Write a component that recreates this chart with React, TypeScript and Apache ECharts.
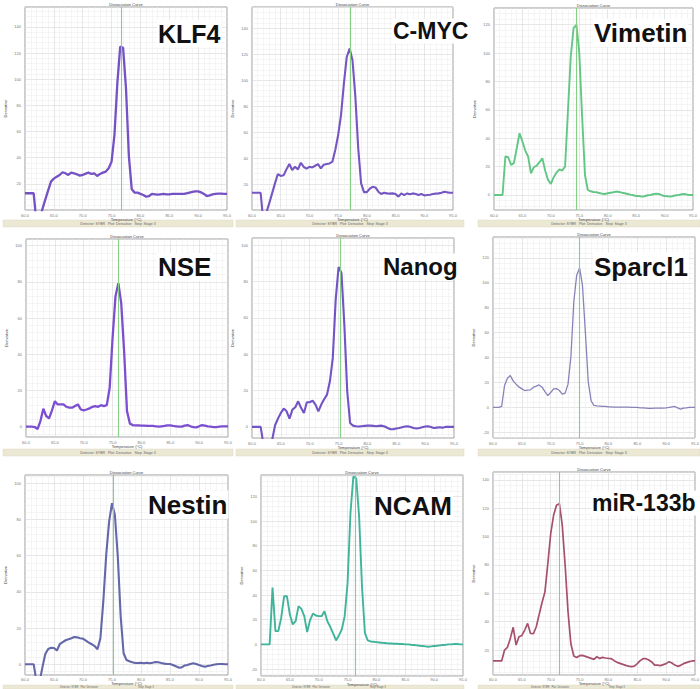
import React, { useEffect, useRef } from "react";
import * as echarts from "echarts";

// Shared temperature grid (°C)
const temps = [
  60, 60.5, 61, 61.5, 62, 62.5, 63, 63.5, 64, 64.5,
  65, 65.5, 66, 66.5, 67, 67.5, 68, 68.5, 69, 69.5,
  70, 70.5, 71, 71.5, 72, 72.5, 73, 73.5, 74, 74.5,
  75, 75.5, 76, 76.5, 77, 77.5, 78, 78.5, 79, 79.5,
  80, 80.5, 81, 81.5, 82, 82.5, 83, 83.5, 84, 84.5,
  85, 85.5, 86, 86.5, 87, 87.5, 88, 88.5, 89, 89.5,
  90, 90.5, 91, 91.5, 92, 92.5, 93, 93.5, 94, 94.5,
  95,
];

const klf4 = [
  12.8, 12.8, 12.8, 12.8, -10, -10, 0.5, 7.7, 14.8, 21.7,
  24, 25.5, 26.8, 28.9, 28.1, 26.8, 28.6, 28.1, 27.3, 26.3,
  26.8, 27.8, 28.6, 27.6, 28.1, 26, 27.6, 28.6, 29.4, 31.9,
  37, 57.5, 97, 125, 124, 93, 41, 15.8, 13.3, 13.3,
  12.3, 11.5, 10.2, 10.7, 12.3, 12, 11.7, 12, 12.3, 12,
  12, 12.3, 12.3, 12.3, 12.3, 12.3, 12.8, 13.3, 13.8, 14.3,
  14.3, 13.5, 12.3, 10.7, 11.2, 12, 12.3, 12.5, 12.5, 12.3,
  12.3,
];

const cmyc = [
  13.3, 13.3, 13.3, 13.3, -10, -2, 5.1, 12.8, 20.5, 27.7,
  26.2, 26.7, 31.3, 35.4, 30.8, 33.3, 31.3, 36.4, 33.3, 31.8,
  33.3, 32.8, 34.1, 35.4, 32, 34.9, 35.4, 35.9, 37.2, 46.2,
  57.7, 73.1, 97.4, 117.9, 124.4, 115.4, 87.2, 47.4, 20.5, 13.8,
  13.8, 16.4, 17.9, 17.4, 14.1, 12.3, 13.3, 12.8, 12.6, 12.8,
  12.3, 10.3, 12.8, 11.5, 12.8, 12.1, 12.8, 12.3, 11.5, 12.3,
  11.3, 11.5, 11.8, 12.3, 12.6, 12.8, 13.3, 14.1, 13.6, 13.3,
  13.3,
];

const vimetin = [
  0, 0, 0, 0, 27.1, 26.6, 21.2, 22.4, 32.9, 43.5,
  37.6, 31.3, 27.1, 15.3, 19.5, 20.7, 23.1, 25.9, 17.2, 10.6,
  7.8, 12.5, 15.8, 18.1, 17.2, 20, 58.8, 97.6, 117.6, 120,
  100, 55.3, 14.1, 3.5, 2.6, 2.1, 1.9, 1.4, 0.9, 0.7,
  1.2, 1.6, 1.9, 2.4, 2.1, 1.6, 1.2, 0.7, 0.2, -0.2,
  -0.7, -0.7, -1.2, -0.9, -0.2, 0, 0.5, 0.9, 0.7, -0.2,
  -0.7, -0.9, -1.2, -0.7, -0.2, 0, 0.5, 0.7, 0.2, 0,
  0,
];

const nse = [
  0, 0, 0, -0.2, -1.3, 3.1, 9.9, 5.9, 4.6, 9,
  14.1, 12.3, 12.3, 12.3, 11, 10.5, 10.5, 11.4, 12.3, 9.5,
  9, 9.5, 10.1, 11, 11.4, 11, 11.9, 11.4, 11.9, 21.5,
  49, 71.9, 79.3, 68.3, 41.7, 8.6, 1.7, 0.9, 0.7, 0.7,
  0.6, 0.6, 0.4, 0.4, 0.4, 0.2, 0, 0.2, 0.4, 0.7,
  0.7, 0.4, 0.2, 0, 0, 0.6, 0.9, 0.2, -0.2, -0.4,
  0.2, 0.9, 0.6, 0.2, 0, -0.2, -0.2, 0, 0.2, 0.2,
  0.2,
];

const nanog = [
  0, 0, 0, 0, -10, -10, -10, -7, 0.9, 4.6,
  7.7, 10.1, 8.6, 4.6, 9.5, 10.8, 14.1, 10.5, 7.7, 13.6,
  13.6, 14.5, 12.3, 8.6, 12.3, 15.2, 17.8, 25.1, 38, 70.1,
  88, 84.8, 56.3, 19.6, 2.2, 0.7, 0.4, 0.2, 0.4, 0.6,
  0.7, 0.7, 0.6, 0.4, 0.6, 0.7, 0.2, -0.6, -1.3, -1.3,
  -0.9, -0.6, -0.2, 0.2, 0.4, 0, -0.6, -0.9, -0.6, -0.2,
  0.2, 0.4, 0, -0.6, -0.4, -0.2, -0.4, 0, 0, 0,
  0,
];

const sparcl1 = [
  0, 0, 0, 0.8, 17.6, 23.5, 25.6, 21.3, 18.7, 16.5,
  14.9, 13.6, 13.9, 14.1, 16.3, 17.1, 18.1, 16.3, 12.8, 9.6,
  12, 14.9, 15.2, 13.6, 10.7, 11.5, 18.7, 40.8, 84.8, 106.1,
  112, 98.1, 60.8, 20.8, 5.3, 1.6, 1.3, 1.1, 0.8, 0.8,
  0.5, 0.5, 0.3, 0.3, 0.3, 0.3, 0.3, 0.3, 0, 0,
  0, -0.3, -0.3, -0.5, -0.8, -0.8, -0.5, -0.5, -0.5, -0.5,
  -0.3, 0, 0.5, 0.8, -0.3, -1.3, -0.5, -0.3, 0, 0,
  0,
];

const nestin = [
  0, 0, 0, 0, -10, -10, -1.7, 5.7, 8.5, 9.2,
  9, 7.6, 11.2, 12.3, 13.3, 13.8, 14.4, 15.1, 14.9, 14.4,
  14.2, 13.1, 12, 11.1, 10.1, 8.3, 14.4, 34.6, 60.4, 78.8,
  89, 82.5, 59.5, 26.3, 6.1, 2.4, 1.7, 1.1, 0.7, 0.7,
  0.9, 0.6, 0.9, 0.6, 0.9, 1.3, 1.1, 0.7, 0.4, 0.2,
  0.2, -0.4, -1.1, -1.8, -1.7, -0.7, -0.4, 0.2, 0.6, 0.2,
  -0.4, -0.9, -1.3, -0.9, -0.6, -0.2, 0, 0.2, 0.2, 0,
  0,
];

const ncam = [
  0, 0, 0, 0, 46, 10.8, 10.8, 21.5, 39, 39,
  24.2, 16.2, 18.8, 31, 28.8, 22.9, 10, 19.7, 25, 23.4,
  22.9, 22.9, 26.9, 18.8, 14.3, 8.9, 3.2, 7.3, 12.1, 22.9,
  49.8, 106.3, 136, 134.6, 103.6, 47.1, 9.4, 3.2, 2.4, 2.2,
  1.9, 1.6, 1.3, 1.1, 0.8, 0.8, 0.5, 0.5, 0.3, 0.3,
  0, 0, -0.3, -0.5, -0.8, -1.1, -1.3, -1.6, -1.9, -1.6,
  -1.3, -1.1, -0.8, -0.5, -0.3, 0, 0, 0.3, 0.3, 0,
  0,
];

const mir133b = [
  12.3, 12.3, 12.3, 12.3, 20, 21.9, 28.2, 36, 23.5, 29.4,
  30.3, 34.1, 38.8, 31.7, 31.5, 36.4, 45.1, 53.5, 61, 81,
  102.1, 115, 122, 123.2, 108, 79.8, 47, 24.2, 15.8, 14.8,
  16, 16.2, 15.5, 14.8, 14.1, 13.4, 15.3, 14.1, 14.8, 14.4,
  14.1, 13.9, 12.5, 11.3, 10.6, 9.9, 9.2, 8.7, 8.3, 8.7,
  10.4, 12.5, 13.9, 13.9, 13, 11.6, 9.4, 9.4, 9, 9.7,
  10.4, 11.8, 10.9, 9.4, 8.5, 9.2, 10.4, 11.1, 11.8, 12.3,
  12.3,
];

const geneNames = ["KLF4", "C-MYC", "Vimetin", "NSE", "Nanog", "Sparcl1", "Nestin", "NCAM", "miR-133b"];
const seriesValues = [klf4, cmyc, vimetin, nse, nanog, sparcl1, nestin, ncam, mir133b];
const meltTemps = [76.6, 77.1, 74.4, 75.9, 75.3, 75.0, 75.3, 76.3, 71.5];
const yMins = [0, 0, -10.6, -5.7, -6.1, -24.5, -5.9, -25.6, 2.4];
const yMaxs = [155.3, 156.4, 131.8, 103.7, 104.0, 136.8, 104.6, 137.3, 145.5];
const xMin = 60;
const xMax = 95;
const xStep = 5;

// Layout & styles (pixels)
const layout = [
  { box: [25, 7, 227, 210], color: "#7451c4", width: 2.3, split: 8, label: [157, 33.5, 25], nameGap: 7, tickGap: 3 },
  { box: [252, 7, 453, 210], color: "#7656c2", width: 2.1, split: 8, label: [392, 31, 23], nameGap: 7, tickGap: 3 },
  { box: [494, 8, 693, 210], color: "#62c786", width: 1.9, split: 7, label: [593, 33, 26], nameGap: 7, tickGap: 3 },
  { box: [26, 239, 228, 437], color: "#7c4fd0", width: 2.3, split: 5, label: [157, 267, 26], nameGap: 7, tickGap: 3 },
  { box: [252, 238, 454, 438], color: "#7254c6", width: 2.1, split: 5, label: [382, 266.5, 24], nameGap: 7, tickGap: 3 },
  { box: [493, 237, 695, 438], color: "#8783b8", width: 1.3, split: 8, label: [593, 266.5, 26], nameGap: 7, tickGap: 3 },
  { box: [25, 475, 228, 675], color: "#6467aa", width: 2.1, split: 5, label: [147, 504.5, 26], nameGap: 6.5, tickGap: 2 },
  { box: [261, 475, 463, 676], color: "#3fb49a", width: 1.9, split: 8, label: [373, 506, 26], nameGap: 5.5, tickGap: 1.5 },
  { box: [493, 472, 695, 675], color: "#a6506e", width: 1.7, split: 7, label: [591, 503, 23], nameGap: 6.5, tickGap: 2 },
];

const strips = [
  [3, 220, 230, 7], [236, 220, 228, 7], [478, 220, 222, 7],
  [3, 449, 230, 7], [236, 449, 228, 7], [478, 449, 222, 7],
  [3, 685, 230, 4], [236, 685, 228, 4], [478, 685, 222, 4],
];

const FONT = '"Liberation Sans", Arial, sans-serif';

export default function App() {
  const ref = useRef<HTMLDivElement>(null);

  useEffect(() => {
    if (!ref.current) return;
    const chart = echarts.init(ref.current, null, { renderer: "svg" });

    const grid = layout.map((p) => ({
      left: p.box[0],
      top: p.box[1],
      width: p.box[2] - p.box[0],
      height: p.box[3] - p.box[1],
      show: true,
      backgroundColor: "#ffffff",
      borderColor: "#9c9c9c",
      borderWidth: 1,
      containLabel: false,
      outerBoundsMode: "none",
    }));

    const xAxis = layout.map((p, i) => ({
      type: "value",
      gridIndex: i,
      min: xMin,
      max: xMax,
      interval: xStep,
      name: "Temperature (°C)",
      nameLocation: "middle",
      nameGap: p.nameGap,
      nameTextStyle: { fontSize: 4, color: "#444", fontFamily: FONT, lineHeight: 4 },
      axisLine: { show: false },
      axisTick: { show: false },
      axisLabel: {
        fontSize: 4,
        lineHeight: 4,
        color: "#777",
        margin: p.tickGap,
        fontFamily: FONT,
        formatter: (v: number) => v.toFixed(1),
      },
      splitLine: { show: true, lineStyle: { color: "#d6d6d6", width: 0.6 } },
      minorTick: { show: false, splitNumber: 5 },
      minorSplitLine: { show: true, lineStyle: { color: "#ebebeb", width: 0.5 } },
    }));

    const yAxis = layout.map((p, i) => ({
      type: "value",
      gridIndex: i,
      min: yMins[i],
      max: yMaxs[i],
      splitNumber: p.split,
      name: "Derivative",
      nameLocation: "middle",
      nameGap: 18,
      nameTextStyle: { fontSize: 4, color: "#444", fontFamily: FONT },
      axisLine: { show: false },
      axisTick: { show: false },
      axisLabel: {
        fontSize: 4,
        color: "#777",
        margin: 4,
        fontFamily: FONT,
        showMinLabel: false,
        showMaxLabel: false,
      },
      splitLine: { show: true, lineStyle: { color: "#d6d6d6", width: 0.6 } },
      minorTick: { show: false, splitNumber: 5 },
      minorSplitLine: { show: true, lineStyle: { color: "#ebebeb", width: 0.5 } },
    }));

    const series = layout.map((p, i) => ({
      type: "line",
      name: geneNames[i],
      xAxisIndex: i,
      yAxisIndex: i,
      data: temps.map((t, j) => [t, seriesValues[i][j]]),
      showSymbol: false,
      symbol: "none",
      clip: true,
      lineStyle: { color: p.color, width: p.width },
      markLine: {
        silent: true,
        symbol: ["none", "none"],
        label: { show: false },
        lineStyle: { color: "#86d086", width: 1.1, type: "solid", opacity: 1 },
        data: [{ xAxis: meltTemps[i] }],
      },
      z: 3,
    }));

    const graphic: any[] = [];
    strips.forEach((s, k) => {
      graphic.push({
        type: "rect",
        shape: { x: s[0], y: s[1], width: s[2], height: s[3] },
        style: { fill: "#ebe8d4", stroke: "#ddd9c2", lineWidth: 0.5 },
        silent: true,
      });
      const cx = s[0] + s[2] / 2;
      const cy = s[1] + s[3] / 2;
      if (k < 6) {
        graphic.push({
          type: "text",
          style: {
            text: "Detector: SYBR   Plot: Derivative   Step: Stage 3",
            x: cx,
            y: cy + 0.5,
            fill: "#666",
            fontSize: 3.5,
            lineHeight: 3.5,
            fontFamily: FONT,
            align: "center",
            verticalAlign: "middle",
          },
          silent: true,
        });
      } else {
        graphic.push({
          type: "text",
          style: {
            text: "Detector: SYBR   Plot: Derivative",
            x: cx - 20,
            y: cy + 0.8,
            fill: "#666",
            fontSize: 2.6,
            lineHeight: 2.6,
            fontFamily: FONT,
            align: "right",
            verticalAlign: "middle",
          },
          silent: true,
        });
        graphic.push({
          type: "text",
          style: {
            text: "Step: Stage 3",
            x: cx + 20,
            y: cy + 0.8,
            fill: "#666",
            fontSize: 2.6,
            lineHeight: 2.6,
            fontFamily: FONT,
            align: "left",
            verticalAlign: "middle",
          },
          silent: true,
        });
      }
    });
    layout.forEach((p, i) => {
      graphic.push({
        type: "text",
        style: {
          text: "Dissociation Curve",
          x: (p.box[0] + p.box[2]) / 2,
          y: p.box[1] - 2.5,
          fill: "#444",
          fontSize: 4,
          fontFamily: FONT,
          align: "center",
          verticalAlign: "middle",
        },
        silent: true,
      });
      graphic.push({
        type: "text",
        z: 10,
        style: {
          text: geneNames[i],
          x: p.label[0],
          y: p.label[1],
          fill: "#111",
          fontSize: p.label[2],
          fontWeight: "bold",
          fontFamily: FONT,
          align: "left",
          verticalAlign: "middle",
          backgroundColor: "#ffffff",
          padding: [1, 1],
        },
        silent: true,
      });
    });

    chart.setOption({
      animation: false,
      backgroundColor: "#ffffff",
      grid,
      xAxis,
      yAxis,
      series,
      graphic,
    } as any);

    return () => chart.dispose();
  }, []);

  return (
    <div
      ref={ref}
      style={{ position: "absolute", left: 0, top: 0, width: 700, height: 689 }}
    />
  );
}
